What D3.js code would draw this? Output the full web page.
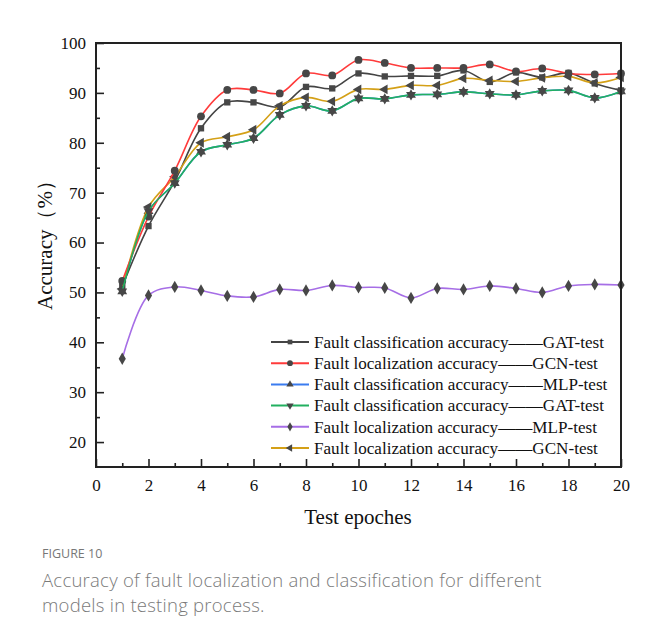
<!DOCTYPE html>
<html><head><meta charset="utf-8">
<script src="https://cdn.jsdelivr.net/npm/d3@7/dist/d3.min.js"></script>
<style>body{margin:0;background:#fff;} svg{display:block;}</style>
</head><body>
<svg id="chart" width="654" height="643"></svg>
<script>
const epochs = d3.range(1, 21);
const gatClsA = [51.2,63.3,72.3,82.9,88.1,88.1,87.2,91.2,90.9,93.9,93.3,93.4,93.4,94.5,92.2,94.1,93.1,94.0,91.9,90.5];
const gcnLoc  = [52.3,65.2,74.4,85.3,90.6,90.6,89.9,93.9,93.5,96.6,96.0,95.0,95.0,95.0,95.7,94.3,94.9,93.9,93.7,93.9];
const mlpCls  = [50.2,66.3,71.9,78.2,79.6,80.9,85.6,87.4,86.4,88.9,88.8,89.6,89.7,90.2,89.8,89.6,90.4,90.5,89.0,90.3];
const gatClsB = [50.2,66.3,71.9,78.2,79.6,80.9,85.6,87.4,86.4,88.9,88.8,89.6,89.7,90.2,89.8,89.6,90.4,90.5,89.0,90.3];
const mlpLoc  = [36.7,49.4,51.1,50.4,49.3,49.1,50.6,50.4,51.4,51.0,50.9,48.9,50.8,50.6,51.3,50.8,50.0,51.3,51.6,51.5];
const gcnLocB = [50.7,67.1,73.2,80.0,81.2,82.6,87.4,89.1,88.3,90.7,90.7,91.5,91.5,92.9,92.5,92.3,93.0,93.3,92.0,93.1];
const seriesNames = [
  ["Fault classification accuracy","GAT-test"],
  ["Fault localization accuracy","GCN-test"],
  ["Fault classification accuracy","MLP-test"],
  ["Fault classification accuracy","GAT-test"],
  ["Fault localization accuracy","MLP-test"],
  ["Fault localization accuracy","GCN-test"]
];
const xTicks = d3.range(0, 21, 2);
const yTicks = d3.range(20, 101, 10);

const colors = ["#444444","#ff3b3b","#3a7cf0","#22b060","#a66ee6","#d4a017"];
const shapes = ["square","circle","up","down","diamond","left"];
const seriesData = [gatClsA, gcnLoc, mlpCls, gatClsB, mlpLoc, gcnLocB];
const drawOrder = [2,4,0,5,1,3];

const svg = d3.select("#chart");
const L = 96, R = 621, T = 43, B = 467;
const x = d3.scaleLinear().domain([0,20]).range([L,R]);
const y = d3.scaleLinear().domain([15,100]).range([B,T]);
const serif = "'Liberation Serif','Times New Roman',serif";

const xAxis = d3.axisBottom(x).tickValues(xTicks).tickSize(-8).tickPadding(12).tickFormat(d3.format("d"));
const xMinor = d3.axisBottom(x).tickValues(d3.range(1,20,2)).tickSize(-4).tickFormat("");
const yAxis = d3.axisLeft(y).tickValues(yTicks).tickSize(-8).tickPadding(10).tickFormat(d3.format("d"));
const yMinor = d3.axisLeft(y).tickValues(d3.range(25,100,10)).tickSize(-4).tickFormat("");

function styleAxis(g){
  g.select(".domain").remove();
  g.selectAll("line").attr("stroke","#222").attr("stroke-width",1.6);
  g.selectAll("text").attr("font-family",serif).attr("font-size",17).attr("fill","#111");
}
svg.append("g").attr("transform",`translate(0,${B})`).call(xAxis).call(styleAxis);
svg.append("g").attr("transform",`translate(0,${B})`).call(xMinor).call(styleAxis);
svg.append("g").attr("transform",`translate(${L},0)`).call(yAxis).call(styleAxis);
svg.append("g").attr("transform",`translate(${L},0)`).call(yMinor).call(styleAxis);

const line = d3.line().x((d,i)=>x(epochs[i])).y(d=>y(d)).curve(d3.curveCatmullRom.alpha(0.5));
function marker(g, shape, cx, cy, s){
  const sym = {square:d3.symbolSquare, circle:d3.symbolCircle, up:d3.symbolTriangle, down:d3.symbolTriangle, diamond:d3.symbolDiamond, left:d3.symbolTriangle}[shape];
  const size = {square:40, circle:48, up:42, down:42, diamond:44, left:42}[shape]*s;
  const rot = {down:180, left:-90}[shape] || 0;
  g.append("path").attr("d", d3.symbol().type(sym).size(size)())
    .attr("transform",`translate(${cx},${cy}) rotate(${rot})`)
    .attr("fill","#474747");
}
drawOrder.forEach(k=>{
  const g = svg.append("g");
  g.append("path").datum(seriesData[k]).attr("d",line).attr("fill","none")
    .attr("stroke",colors[k]).attr("stroke-width",1.6);
  seriesData[k].forEach((v,i)=>marker(g, shapes[k], x(epochs[i]), y(v), 1));
});

svg.append("rect").attr("x",L).attr("y",T).attr("width",R-L).attr("height",B-T)
  .attr("fill","none").attr("stroke","#222").attr("stroke-width",2);

const lg = svg.append("g");
seriesNames.forEach((n,k)=>{
  const yy = 342 + k*21.2;
  lg.append("line").attr("x1",271).attr("x2",309).attr("y1",yy).attr("y2",yy)
    .attr("stroke",colors[k]).attr("stroke-width",2);
  marker(lg, shapes[k], 290, yy, 0.55);
  const t = lg.append("text").attr("x",314).attr("y",yy+5.8).attr("font-family",serif)
    .attr("font-size",17.1).attr("fill","#111");
  t.append("tspan").text(n[0]);
  t.append("tspan").text("——");
  t.append("tspan").text(n[1]);
});

svg.append("text").attr("x",358).attr("y",524).attr("text-anchor","middle")
  .attr("font-family",serif).attr("font-size",21).attr("fill","#111").text("Test epoches");
svg.append("text").attr("transform","translate(52,240) rotate(-90)").attr("text-anchor","middle")
  .attr("font-family",serif).attr("font-size",21).attr("fill","#111").text("Accuracy（%）");

const sans = "'Open Sans','Noto Sans',sans-serif";
svg.append("text").attr("x",42).attr("y",558).attr("font-family",sans).attr("font-size",12.5)
  .attr("fill","#777").text("FIGURE 10");
svg.append("text").attr("x",42).attr("y",587).attr("font-family",sans).attr("font-size",18.5)
  .attr("font-weight",300).attr("letter-spacing",0.25).attr("fill","#7a7a7a").text("Accuracy of fault localization and classification for different");
svg.append("text").attr("x",42).attr("y",612).attr("font-family",sans).attr("font-size",18.5)
  .attr("font-weight",300).attr("letter-spacing",0.25).attr("fill","#7a7a7a").text("models in testing process.");
</script>
</body></html>
